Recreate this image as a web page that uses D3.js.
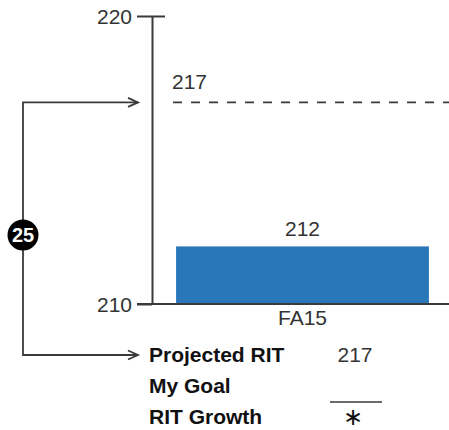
<!DOCTYPE html>
<html>
<head>
<meta charset="utf-8">
<script src="https://cdn.jsdelivr.net/npm/d3@7/dist/d3.min.js"></script>
<style>
  html, body { margin: 0; padding: 0; background: #fff; }
  svg { display: block; }
  text { font-family: "Liberation Sans", Arial, Helvetica, sans-serif; }
</style>
</head>
<body>
<svg id="chart" width="449" height="430"></svg>
<script>
// Term scores shown as bars
const categories = ["FA15"];
const ritScores = [212];
// Projected score for the next term (dashed reference line)
const projectedRIT = 217;
// Points of growth between current and projected score
const growthPoints = 25;
// Y-axis ticks
const yTicks = [210, 220];
// Legend rows underneath the chart
const legendLabels = ["Projected RIT", "My Goal", "RIT Growth"];
const legendValues = ["217", "", "\u2217"];

const W = 449, H = 430;
const axisX = 152, plotTop = 16, plotBottom = 304;
const ink = "#3a3a3a";

const svg = d3.select("#chart");

const y = d3.scaleLinear().domain(d3.extent(yTicks)).range([plotBottom, plotTop]);
const x = d3.scaleBand().domain(categories).range([axisX, 453]).padding(0.087);

// Y axis: ticks on the left, top tick crosses the axis
const yAxis = svg.append("g")
  .attr("transform", `translate(${axisX},0)`)
  .call(d3.axisLeft(y).tickValues(yTicks).tickSize(15).tickSizeOuter(0).tickPadding(5).tickFormat(d3.format("d")));
yAxis.select(".domain").attr("stroke", ink).attr("stroke-width", 2);
yAxis.selectAll(".tick line")
  .attr("stroke", ink).attr("stroke-width", 2)
  .attr("x1", d => d === d3.max(yTicks) ? 13 : 0);
yAxis.selectAll(".tick text")
  .attr("fill", "#333").attr("font-size", 21).attr("dy", "0.36em");

// Bars
svg.append("g").selectAll("rect")
  .data(categories)
  .join("rect")
  .attr("x", d => x(d))
  .attr("width", x.bandwidth())
  .attr("y", (d, i) => y(ritScores[i]))
  .attr("height", (d, i) => plotBottom - y(ritScores[i]))
  .attr("fill", "#2977b8");

// Bar value labels
svg.append("g").selectAll("text")
  .data(categories)
  .join("text")
  .attr("x", d => x(d) + x.bandwidth() / 2)
  .attr("y", (d, i) => y(ritScores[i]) - 10)
  .attr("text-anchor", "middle")
  .attr("font-size", 21)
  .attr("fill", "#333")
  .text((d, i) => ritScores[i]);

// X axis baseline with category labels
const xAxis = svg.append("g")
  .attr("transform", `translate(0,${plotBottom})`)
  .call(d3.axisBottom(x).tickSize(0).tickSizeOuter(0).tickPadding(6));
xAxis.select(".domain").attr("stroke", ink).attr("stroke-width", 2)
  .attr("d", `M${axisX - 15},0H${W}`);
xAxis.selectAll(".tick text").attr("fill", "#333").attr("font-size", 21);

// Projected score: dashed line and label
const py = y(projectedRIT);
svg.append("line")
  .attr("x1", 173).attr("x2", W)
  .attr("y1", py).attr("y2", py)
  .attr("stroke", ink).attr("stroke-width", 1.6)
  .attr("stroke-dasharray", "9,9");
svg.append("text")
  .attr("x", 172).attr("y", py - 13)
  .attr("font-size", 21).attr("fill", "#333")
  .text(projectedRIT);

// Legend rows
const legendX = 149, valueX = 355;
const rowY = [362, 393, 424];
const legend = svg.append("g");
legend.selectAll("text.lab")
  .data(legendLabels)
  .join("text")
  .attr("class", "lab")
  .attr("x", legendX)
  .attr("y", (d, i) => rowY[i])
  .attr("font-size", 21)
  .attr("font-weight", "bold")
  .attr("fill", "#111")
  .text(d => d);
legend.append("text")
  .attr("x", valueX).attr("y", rowY[0])
  .attr("text-anchor", "middle").attr("font-size", 21).attr("fill", "#333")
  .text(legendValues[0]);
// Blank goal line
legend.append("line")
  .attr("x1", 330).attr("x2", 382)
  .attr("y1", 402).attr("y2", 402)
  .attr("stroke", ink).attr("stroke-width", 1.5);
legend.append("text")
  .attr("x", valueX - 2).attr("y", 418)
  .attr("dy", "0.3em")
  .attr("text-anchor", "middle")
  .style("font-family", "'DejaVu Sans', sans-serif")
  .attr("font-size", 24).attr("fill", "#111")
  .text(legendValues[2]);

// Growth bracket from the legend to the projected line
const bx = 23, arrowTip = 138, bottomY = 355;
const bracket = d3.path();
bracket.moveTo(arrowTip, py);
bracket.lineTo(bx, py);
bracket.lineTo(bx, bottomY);
bracket.lineTo(arrowTip, bottomY);
svg.append("path")
  .attr("d", bracket.toString())
  .attr("fill", "none").attr("stroke", ink).attr("stroke-width", 1.8);
[py, bottomY].forEach(ay => {
  const head = d3.path();
  head.moveTo(arrowTip - 10, ay - 4.5);
  head.lineTo(arrowTip, ay);
  head.lineTo(arrowTip - 10, ay + 4.5);
  svg.append("path")
    .attr("d", head.toString())
    .attr("fill", "none").attr("stroke", ink).attr("stroke-width", 1.8);
});

// Growth badge
svg.append("circle")
  .attr("cx", bx).attr("cy", 235).attr("r", 15.5)
  .attr("fill", "#000");
svg.append("text")
  .attr("x", bx).attr("y", 235)
  .attr("dy", "0.36em")
  .attr("text-anchor", "middle")
  .attr("font-size", 20).attr("font-weight", "bold").attr("fill", "#fff")
  .text(growthPoints);
</script>
</body>
</html>
